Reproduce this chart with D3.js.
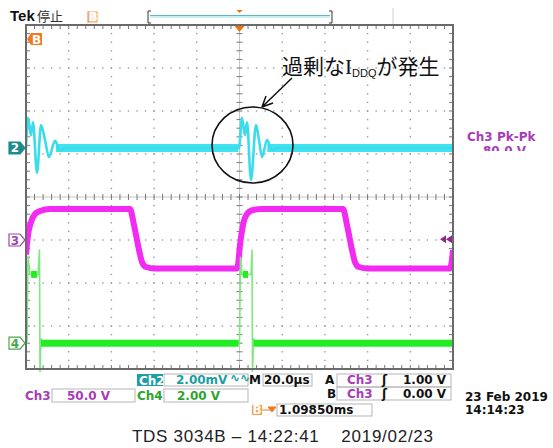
<!DOCTYPE html>
<html>
<head>
<meta charset="utf-8">
<script src="https://cdn.jsdelivr.net/npm/d3@7"></script>
<style>
  body { margin: 0; background: #fff; }
  svg { display: block; }
  .lbl { font-family: "DejaVu Sans", sans-serif; font-weight: bold; font-size: 12px; }
</style>
</head>
<body>
<svg id="scope" width="553" height="448"></svg>
<script>
// time axis in µs, trigger at centre
const timeDomain = [-100, 100];
const divsX = 10, divsY = 8, minorPerDiv = 5;

// channel settings (volts per div, ground position in div)
const ch2Setting = { perDiv: 2.0, pos: 1.14 };   // mV
const ch3Setting = { perDiv: 50.0, pos: -1.0 };  // V
const ch4Setting = { perDiv: 2.0, pos: -3.4 };   // V
const trigLevel = 1.0; // V on Ch3

// Ch2 (cyan, mV): ringing after each edge
const ch2Points = [[-100,0],[-99.06,1.40],[-97.66,0.60],[-96.72,1.20],[-94.85,-1.16],[-92.97,1.07],
  [-91.10,0.37],[-89.23,-0.42],[-86.42,0.33],[-84.07,-0.14],[-81.73,0],
  [-0.23,0],[1.17,1.40],[2.58,0.60],[3.51,1.20],[5.39,-1.49],[7.73,1.07],[9.13,0.37],
  [10.54,-0.42],[12.88,0.37],[15.22,-0.09],[17.56,0],[100,0]];
const ch2Bands = [[-86, -0.5, 0], [13, 100, 0]];

// Ch3 (magenta, V): square wave
const ch3Points = [[-100,-17],[-99.06,5.8],[-97.66,20.9],[-95.78,30.2],[-93.44,33.7],[-88.76,36],
  [-51.29,36],[-49.41,17.4],[-47.07,-11.6],[-45.66,-25.6],[-43.79,-31.4],[-39.58,-33],
  [-1.17,-33],[-0.7,-29],[0.23,-5.8],[1.64,17.4],[3.51,30.2],[6.32,34.9],[10.54,36],
  [48.48,36],[50.36,17.4],[52.70,-11.6],[54.10,-25.6],[55.97,-31.4],[60.19,-33],
  [98.6,-33],[99.5,-23.3],[100,-11.6]];

// Ch4 (green, V): short pulses
const ch4Points = [[-100,0],[-99.53,0],[-99.06,4.0],[-98.13,3.2],[-94.38,3.2],[-93.68,4.33],
  [-93.44,-1.4],[-92.97,0.2],[-92.04,0],[0,0],[0.47,4.0],[1.17,3.2],[5.39,3.2],[5.86,4.33],
  [6.09,-1.4],[6.56,0.2],[7.73,0],[100,0]];
const ch4Bands = [[-93, -0.4, 0], [6.6, 100, 0], [-97.6, -94.9, 3.2], [1.6, 4.0, 3.2]];

const X0 = 26, X1 = 453, Y0 = 25, Y1 = 369;
const svg = d3.select('#scope');

const x = d3.scaleLinear().domain(timeDomain).range([X0, X1]);
const xDiv = d3.scaleLinear().domain([0, divsX]).range([X0, X1]);
const yDiv = d3.scaleLinear().domain([-divsY / 2, divsY / 2]).range([Y1, Y0]);
const yCh = s => v => yDiv(v / s.perDiv + s.pos);
const y2 = yCh(ch2Setting), y3 = yCh(ch3Setting), y4 = yCh(ch4Setting);

// ---- graticule ----
const grid = svg.append('g');
const minorX = d3.range(0, divsX * minorPerDiv + 1).map(i => i / minorPerDiv);
const minorY = d3.range(0, divsY * minorPerDiv + 1).map(i => i / minorPerDiv - divsY / 2);
const dots = [];
d3.range(1, divsX).filter(i => i !== divsX / 2).forEach(i =>
  minorY.forEach(v => dots.push([xDiv(i), yDiv(v)])));
d3.range(-divsY / 2 + 1, divsY / 2).filter(j => j !== 0).forEach(j =>
  minorX.forEach(u => dots.push([xDiv(u), yDiv(j)])));
grid.selectAll('rect.dot').data(dots).join('rect')
  .attr('x', d => d[0] - 0.7).attr('y', d => d[1] - 0.7)
  .attr('width', 1.4).attr('height', 1.4).attr('fill', '#9a9a9a');

// centre axes
const xc = xDiv(divsX / 2), yc = yDiv(0);
grid.append('line').attr('x1', xc).attr('x2', xc).attr('y1', Y0).attr('y2', Y1)
  .attr('stroke', '#c8c8c8').attr('stroke-width', 1);
grid.append('line').attr('x1', X0).attr('x2', X1).attr('y1', yc).attr('y2', yc)
  .attr('stroke', '#c8c8c8').attr('stroke-width', 1);
const tickPath = d3.path();
minorY.forEach(v => { tickPath.moveTo(xc - 3, yDiv(v)); tickPath.lineTo(xc + 3, yDiv(v)); });
minorX.forEach(u => { tickPath.moveTo(xDiv(u), yc - 3); tickPath.lineTo(xDiv(u), yc + 3); });
// edge ticks
minorX.forEach(u => {
  tickPath.moveTo(xDiv(u), Y0); tickPath.lineTo(xDiv(u), Y0 + 4);
  tickPath.moveTo(xDiv(u), Y1); tickPath.lineTo(xDiv(u), Y1 - 4);
});
minorY.forEach(v => {
  tickPath.moveTo(X0, yDiv(v)); tickPath.lineTo(X0 + 4, yDiv(v));
  tickPath.moveTo(X1, yDiv(v)); tickPath.lineTo(X1 - 4, yDiv(v));
});
grid.append('path').attr('d', tickPath.toString()).attr('stroke', '#777').attr('stroke-width', 1).attr('fill', 'none');

// ---- traces ----
svg.append('clipPath').attr('id', 'screen').append('rect')
  .attr('x', X0).attr('y', Y0).attr('width', X1 - X0).attr('height', Y1 - Y0 + 3);
const traces = svg.append('g').attr('clip-path', 'url(#screen)');

function band(data, ys, color, w) {
  traces.selectAll(null).data(data).join('line')
    .attr('x1', d => x(d[0])).attr('x2', d => x(d[1]))
    .attr('y1', d => ys(d[2])).attr('y2', d => ys(d[2]))
    .attr('stroke', color).attr('stroke-width', w);
}
function trace(data, ys, color, w, curve) {
  traces.append('path').datum(data)
    .attr('d', d3.line().x(d => x(d[0])).y(d => ys(d[1])).curve(curve))
    .attr('fill', 'none').attr('stroke', color).attr('stroke-width', w)
    .attr('stroke-linejoin', 'round');
}

band(ch2Bands, y2, '#3fe4f0', 8);
trace(ch2Points, y2, '#3adcec', 2.6, d3.curveMonotoneX);
trace(ch3Points, y3, '#f22af2', 6, d3.curveMonotoneX);
trace(ch4Points, y4, '#7fe97f', 1.6, d3.curveLinear);
band(ch4Bands, y4, '#22ec22', 7);

// border
svg.append('rect').attr('x', X0).attr('y', Y0).attr('width', X1 - X0).attr('height', Y1 - Y0)
  .attr('fill', 'none').attr('stroke', '#6a6a6a').attr('stroke-width', 2);

// ---- channel markers ----
function marker(yv, label, fill, stroke, txt) {
  const g = svg.append('g').attr('transform', `translate(${X0 - 1},${yv})`);
  g.append('path').attr('d', 'M-16,-6 L-5,-6 L0,0 L-5,6 L-16,6 Z')
    .attr('fill', fill).attr('stroke', stroke).attr('stroke-width', 1.2);
  g.append('text').attr('x', -10).attr('y', 4.5).attr('text-anchor', 'middle')
    .attr('class', 'lbl').attr('font-size', 11).attr('fill', txt).text(label);
}
marker(y2(0), '2', '#1c8c8c', '#1c8c8c', '#fff');
marker(y3(0), '3', '#fff', '#a048a8', '#a048a8');
marker(y4(0), '4', '#fff', '#48a848', '#48a848');

// trigger level arrows on right
const ty = y3(trigLevel);
[0, 6].forEach(o => svg.append('path')
  .attr('d', `M${440 + o},${ty} L${446 + o},${ty - 4} L${446 + o},${ty + 4} Z`).attr('fill', '#8a2a8a'));

// orange trigger position marker + B marker
svg.append('path').attr('d', `M${x(0) - 5},${Y0 + 1} L${x(0) + 5},${Y0 + 1} L${x(0)},${Y0 + 7} Z`).attr('fill', '#f07010');
svg.append('path').attr('d', 'M31,33 L42,33 L42,45 L31,45 L27,39 Z').attr('fill', '#f07a20');
svg.append('text').attr('x', 36.5).attr('y', 43.5).attr('text-anchor', 'middle').attr('class', 'lbl')
  .attr('font-size', 11).attr('fill', '#fff').text('B');

// ---- header ----
svg.append('text').attr('x', 10).attr('y', 21).attr('font-family', 'Liberation Sans, Arial').attr('font-weight', 'bold')
  .attr('font-size', 15).attr('fill', '#111').text('Tek');
svg.append('text').attr('x', 37).attr('y', 21).attr('font-family', 'Noto Sans CJK JP').attr('font-size', 13)
  .attr('fill', '#333').text('停止');
svg.append('rect').attr('x', 89).attr('y', 12).attr('width', 8).attr('height', 10).attr('fill', '#fde2c8').attr('stroke', '#f59a50');
svg.append('line').attr('x1', 88).attr('x2', 88).attr('y1', 11).attr('y2', 23).attr('stroke', '#f08030');
svg.append('text').attr('x', 93).attr('y', 21).attr('text-anchor', 'middle').attr('class', 'lbl')
  .attr('font-size', 9).attr('fill', '#fff').text('B');
svg.append('path').attr('d', 'M151,11 L148,11 L148,23 L151,23').attr('fill', 'none').attr('stroke', '#333');
svg.append('path').attr('d', 'M329,11 L332,11 L332,23 L329,23').attr('fill', 'none').attr('stroke', '#333');
svg.append('line').attr('x1', 150).attr('x2', 330).attr('y1', 15.5).attr('y2', 15.5).attr('stroke', '#5fb8bc').attr('stroke-width', 1.2);
svg.append('line').attr('x1', 150).attr('x2', 330).attr('y1', 17).attr('y2', 17).attr('stroke', '#b7ecef').attr('stroke-width', 1.5);
svg.append('path').attr('d', `M${x(0) - 3},10 L${x(0) + 3},10 L${x(0)},13 Z`).attr('fill', '#f07010');
svg.append('line').attr('x1', 393).attr('x2', 393).attr('y1', 8).attr('y2', 24).attr('stroke', '#d0d0d0');

// ---- measurement ----
svg.append('text').attr('x', 467).attr('y', 141).attr('class', 'lbl').attr('fill', '#a83cb4').text('Ch3 Pk-Pk');
svg.append('clipPath').attr('id', 'cut').append('rect').attr('x', 460).attr('y', 140).attr('width', 90).attr('height', 11);
svg.append('text').attr('x', 483).attr('y', 155).attr('class', 'lbl').attr('fill', '#a83cb4')
  .attr('clip-path', 'url(#cut)').text('80.0 V');

// ---- annotation ----
svg.append('ellipse').attr('cx', 252.5).attr('cy', 145).attr('rx', 40.5).attr('ry', 38)
  .attr('fill', 'none').attr('stroke', '#111').attr('stroke-width', 1.6);
svg.append('path').attr('d', 'M292,78 L262,107 M262,107 L266,96 M262,107 L273,103')
  .attr('fill', 'none').attr('stroke', '#111').attr('stroke-width', 1.5);
const ann = svg.append('text').attr('x', 282).attr('y', 74).attr('font-family', 'Noto Sans CJK JP')
  .attr('font-size', 21).attr('fill', '#111');
ann.append('tspan').text('過剰な');
ann.append('tspan').attr('font-family', 'Liberation Serif').text('I');
ann.append('tspan').attr('font-size', 11).attr('font-family', 'Liberation Sans').attr('dy', 3).text('DDQ');
ann.append('tspan').attr('dy', -3).text('が発生');

// ---- readout panel ----
const purple = '#a83cb4', green = '#2ca52c', teal = '#1d9ea4';
const boxes = [[164, 374, 84, 12], [263, 374, 49, 12], [52, 389, 83, 13], [164, 389, 84, 13],
  [337, 374, 114, 13], [337, 387, 114, 13], [277, 404, 95, 12]];
svg.selectAll('rect.box').data(boxes).join('rect')
  .attr('x', d => d[0]).attr('y', d => d[1]).attr('width', d => d[2]).attr('height', d => d[3])
  .attr('fill', 'none').attr('stroke', '#b5b5b5');
svg.append('rect').attr('x', 137).attr('y', 374).attr('width', 26).attr('height', 12).attr('fill', teal);
const labels = [
  [139, 384.5, 'Ch2', '#fff'], [176, 384, '2.00mV', teal],
  [249, 384, 'M', '#111'], [264, 384, '20.0µs', '#111'],
  [325, 384, 'A', '#111'], [347, 384, 'Ch3', purple], [382, 384, 'ʃ', '#111'], [403, 384, '1.00 V', '#111'],
  [25, 400, 'Ch3', purple], [67, 400, '50.0 V', purple], [137, 400, 'Ch4', green], [177, 400, '2.00 V', green],
  [327, 398, 'B', '#111'], [347, 398, 'Ch3', purple], [382, 398, 'ʃ', '#111'], [403, 398, '0.00 V', '#111'],
  [279, 414, '1.09850ms', '#111'],
  [465, 401, '23 Feb 2019', '#111'], [465, 414, '14:14:23', '#111']
];
svg.selectAll('text.ro').data(labels).join('text')
  .attr('class', 'lbl').attr('x', d => d[0]).attr('y', d => d[1]).attr('fill', d => d[3]).text(d => d[2]);
svg.append('text').attr('x', 230).attr('y', 382).attr('class', 'lbl').attr('font-size', 9)
  .attr('fill', teal).text('∿∿');

// orange B-> marker
svg.append('rect').attr('x', 252).attr('y', 405).attr('width', 10).attr('height', 10).attr('fill', '#f5a050');
svg.append('text').attr('x', 257).attr('y', 413.5).attr('text-anchor', 'middle').attr('class', 'lbl')
  .attr('font-size', 9).attr('fill', '#fff').text('B');
svg.append('path').attr('d', 'M262,410 L270,410 M268,407 L276,407 L272,412 Z').attr('stroke', '#f07a20').attr('fill', '#f07a20');

svg.append('text').attr('x', 132).attr('y', 442).attr('font-family', 'Liberation Sans, Arial')
  .attr('font-size', 17).attr('fill', '#222').style('white-space', 'pre')
  .attr('textLength', 301).attr('lengthAdjust', 'spacing')
  .text('TDS 3034B – 14:22:41    2019/02/23');
</script>
</body>
</html>
